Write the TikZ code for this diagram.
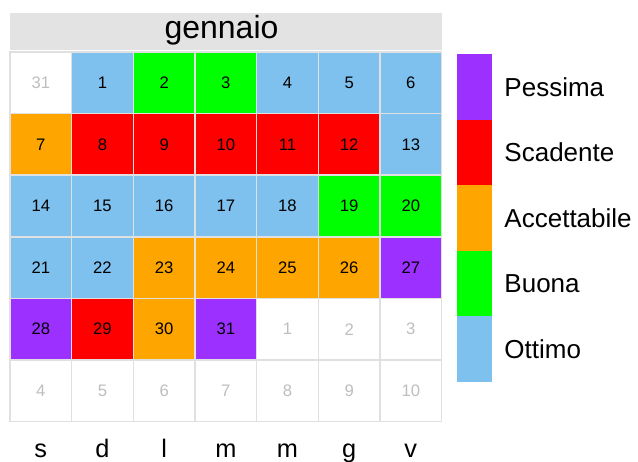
\documentclass[tikz,border=0pt]{standalone}
\usepackage{fontspec}
\setmainfont{Liberation Sans}
\usetikzlibrary{positioning}

\definecolor{pessima}{RGB}{155,48,255}
\definecolor{scadente}{RGB}{255,0,0}
\definecolor{accettabile}{RGB}{255,165,0}
\definecolor{buona}{RGB}{0,255,0}
\definecolor{ottimo}{RGB}{126,192,238}
\definecolor{stripgray}{RGB}{227,227,227}
\definecolor{gridgray}{RGB}{224,224,224}
\definecolor{outgray}{RGB}{190,190,190}

\begin{document}
\begin{tikzpicture}[
    x=0.75pt, y=-0.75pt,
    cell/.style={
        draw=gridgray,
        line width=1.1pt,
        minimum width=46.25pt,
        minimum height=46.2pt,
        inner sep=0pt,
        font=\fontsize{12.5}{14}\selectfont
    },
    title/.style={inner sep=0pt, font=\fontsize{24}{26}\selectfont},
    key/.style={minimum width=26pt, minimum height=49.1pt, inner sep=0pt},
    keylabel/.style={inner sep=0pt, font=\fontsize{19.5}{22}\selectfont},
    wday/.style={inner sep=0pt, anchor=base, font=\fontsize{19}{22}\selectfont}
]
\useasboundingbox (0,0) rectangle (638,461);

% Month strip
\fill[stripgray] (10,13) rectangle (441.7,50);
\node[title, anchor=base] (month) at (221.5,38.3) {gennaio};

% Calendar cells
\foreach \lab/\bg/\fg [count=\i from 0] in {
    31/white/outgray, 1/ottimo/black, 2/buona/black, 3/buona/black, 4/ottimo/black, 5/ottimo/black, 6/ottimo/black,
    7/accettabile/black, 8/scadente/black, 9/scadente/black, 10/scadente/black, 11/scadente/black, 12/scadente/black, 13/ottimo/black,
    14/ottimo/black, 15/ottimo/black, 16/ottimo/black, 17/ottimo/black, 18/ottimo/black, 19/buona/black, 20/buona/black,
    21/ottimo/black, 22/ottimo/black, 23/accettabile/black, 24/accettabile/black, 25/accettabile/black, 26/accettabile/black, 27/pessima/black,
    28/pessima/black, 29/scadente/black, 30/accettabile/black, 31/pessima/black, 1/white/outgray, 2/white/outgray, 3/white/outgray,
    4/white/outgray, 5/white/outgray, 6/white/outgray, 7/white/outgray, 8/white/outgray, 9/white/outgray, 10/white/outgray} {
    \pgfmathtruncatemacro\r{\i/7}
    \pgfmathtruncatemacro\c{mod(\i,7)}
    \node[cell, fill=\bg, text=\fg] (c\i) at ({40.8+61.67*\c},{82.8+61.6*\r}) {\lab};
}

% Weekday letters
\foreach \w [count=\c from 0] in {s,d,l,m,m,g,v}
    \node[wday] (w\c) at ({40.8+61.67*\c},457) {\w};

% Legend
\foreach \q/\name [count=\k from 0] in {pessima/Pessima, scadente/Scadente, accettabile/Accettabile, buona/Buona, ottimo/Ottimo} {
    \node[key, fill=\q, anchor=north west] (k\k) at (457,{54+65.5*\k}) {};
    \node[keylabel, right=9pt of k\k] (l\k) {\name};
}

\end{tikzpicture}
\end{document}
